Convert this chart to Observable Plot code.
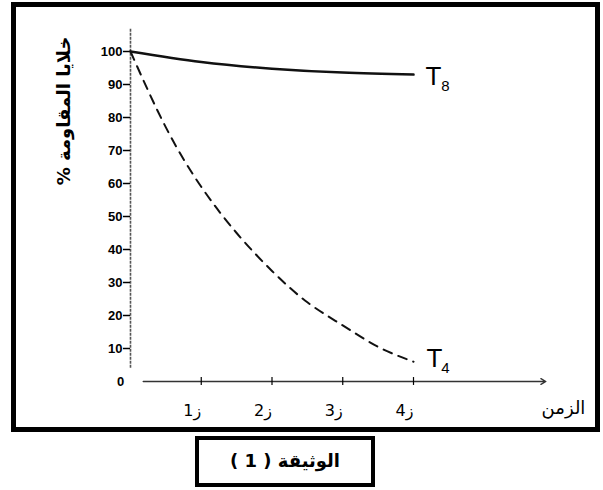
<!DOCTYPE html>
<html>
<head>
<meta charset="utf-8">
<script src="https://cdn.jsdelivr.net/npm/d3@7"></script>
<script src="https://cdn.jsdelivr.net/npm/@observablehq/plot@0.6"></script>
<style>
  html, body { margin: 0; padding: 0; background: #fff; }
  #page { position: relative; width: 603px; height: 490px; overflow: hidden; }
  #frame { position: absolute; left: 11px; top: 2px; width: 589px; height: 430px; box-sizing: border-box; border: 5px solid #000; }
  #chart { position: absolute; left: 0; top: 0; }
  #caption { position: absolute; left: 195px; top: 436px; width: 180px; height: 51px; box-sizing: border-box; border: 4px solid #000;
    font-family: "DejaVu Sans", sans-serif; font-weight: bold; font-size: 18px; text-align: center; line-height: 42px; }
  .ylab { direction: rtl; unicode-bidi: embed; }
</style>
</head>
<body>
<div id="page">
  <div id="frame"></div>
  <div id="chart"></div>
  <div id="caption" dir="rtl">الوثيقة ( 1 )</div>
</div>
<script>
// Time points (ز1..ز4) and percentages of resistant cells
const timeT8 = [0, 1, 2, 3, 4];
const valuesT8 = [100, 96.8, 94.8, 93.6, 93];
const timeT4 = [0, 0.5, 1, 1.5, 2, 2.5, 3, 3.5, 4];
const valuesT4 = [100, 77, 59, 45, 33.5, 24, 17, 10.5, 6];
const yTicks = [10, 20, 30, 40, 50, 60, 70, 80, 90, 100];
const xTicks = [1, 2, 3, 4];
const xTickLabels = ["ز1", "ز2", "ز3", "ز4"];
const yLabel = "خلايا المقاومة %";
const xLabel = "الزمن";
const seriesNames = ["8", "4"];

const t8 = timeT8.map((t, i) => ({t, v: valuesT8[i]}));
const t4 = timeT4.map((t, i) => ({t, v: valuesT4[i]}));
const xt = xTicks.map((t, i) => ({t, label: xTickLabels[i]}));

const chart = Plot.plot({
  width: 603,
  height: 432,
  marginLeft: 130,
  marginRight: 190,
  marginTop: 51,
  marginBottom: 51,
  x: {domain: [0, 4], range: [130, 413], axis: null},
  y: {domain: [0, 100], range: [381, 51]},
  style: {background: "transparent", fontFamily: "'Liberation Sans', Arial, sans-serif", color: "#000"},
  marks: [
    // y axis line
    Plot.ruleX([0], {y1: 4, y2: 107, stroke: "#555", strokeWidth: 1.6, strokeDasharray: "3,1"}),
    Plot.axisY({ticks: yTicks, tickSize: 7, tickPadding: 1, fontSize: 13, fontWeight: "bold", tickFormat: d => d, label: null, strokeWidth: 1.5}),
    Plot.text([0], {x: 0, y: 0, text: d => String(d), dx: -10, fontSize: 13, fontWeight: "bold"}),
    // x axis line with arrow
    Plot.arrow([0], {x1: 0.18, x2: 5.87, y1: 0, y2: 0, headLength: 6, strokeWidth: 1.4, stroke: "#333"}),
    Plot.ruleX(xTicks, {y1: -1.2, y2: 1.2, strokeWidth: 1.2}),
    Plot.text(xt, {x: "t", y: 0, text: "label", dy: 29, dx: -9, fontSize: 16, fontFamily: "'DejaVu Sans', sans-serif"}),
    Plot.text([xLabel], {x: 6.12, y: 0, text: d => d, dy: 27, fontSize: 18, fontFamily: "'DejaVu Sans', sans-serif"}),
    // y label
    Plot.text([yLabel], {x: -0.93, y: 82, text: d => d, rotate: -90, fontSize: 18, fontWeight: "bold", fontFamily: "'DejaVu Sans', sans-serif", className: "ylab"}),
    // curves
    Plot.line(t8, {x: "t", y: "v", curve: "natural", strokeWidth: 2.5, stroke: "#111"}),
    Plot.line(t4, {x: "t", y: "v", curve: "natural", strokeWidth: 2, stroke: "#111", strokeDasharray: "9,7"}),
    // curve labels
    Plot.text([seriesNames[0]], {x: 4, y: 93, text: () => "T", dx: 20, dy: 2, fontSize: 26}),
    Plot.text([seriesNames[0]], {x: 4, y: 93, text: d => d, dx: 32, dy: 12, fontSize: 15}),
    Plot.text([seriesNames[1]], {x: 4, y: 6, text: () => "T", dx: 21, dy: -3, fontSize: 26}),
    Plot.text([seriesNames[1]], {x: 4, y: 6, text: d => d, dx: 32, dy: 6, fontSize: 15})
  ]
});
document.getElementById("chart").appendChild(chart);
</script>
</body>
</html>
